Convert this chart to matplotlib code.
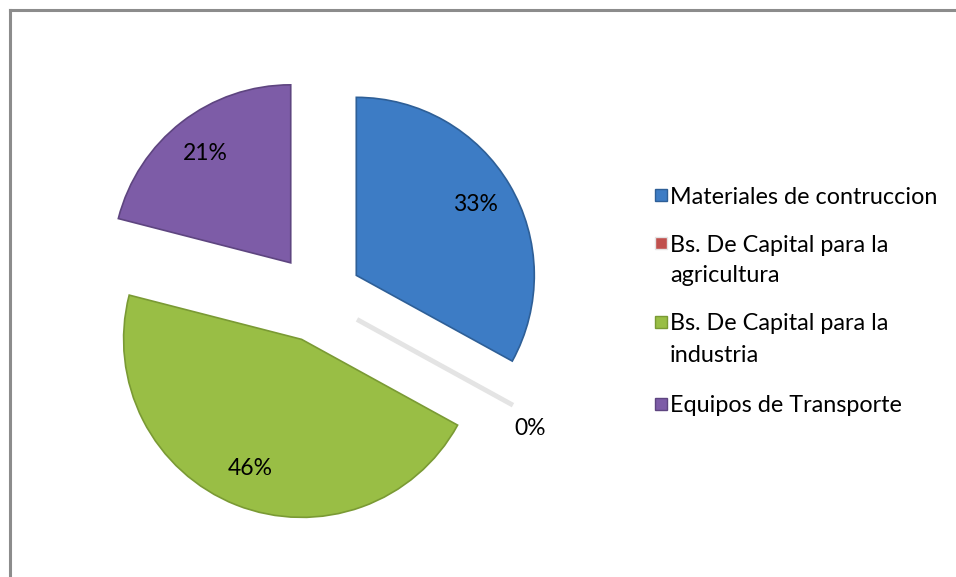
import matplotlib
matplotlib.use("Agg")
import matplotlib.pyplot as plt
from matplotlib.lines import Line2D
from matplotlib.patches import Rectangle
import numpy as np

categories = ["Materiales de contruccion",
              "Bs. De Capital para la\nagricultura",
              "Bs. De Capital para la\nindustria",
              "Equipos de Transporte"]
values = [33, 0, 46, 21]
colors = ["#3D7CC5", "#C0504D", "#99BE45", "#7D5CA7"]
edge_colors = ["#2E5F97", "#e4e4e4", "#7A9A34", "#5E4580"]

plt.rcParams['font.family'] = ['Lato', 'DejaVu Sans']

W, H = 956, 577
fig = plt.figure(figsize=(W / 100, H / 100), dpi=100)

# chart frame (left and top borders visible)
fig.add_artist(Line2D([9.5 / W, 9.5 / W], [0, 1 - 10 / H], color="#8c8c8c", lw=2.2, transform=fig.transFigure))
fig.add_artist(Line2D([9.5 / W, 1], [1 - 10 / H, 1 - 10 / H], color="#8c8c8c", lw=2.2, transform=fig.transFigure))

cx, cy, r = 318, 298, 178
ax = fig.add_axes([(cx - 1.5 * r) / W, (H - cy - 1.5 * r) / H, 3 * r / W, 3 * r / H])
ax.axis("off")

wedges, texts, autotexts = ax.pie(
    values, colors=colors, startangle=90, counterclock=False,
    explode=[0.25] * len(values), autopct="%1.0f%%", pctdistance=0.78,
    wedgeprops=dict(linewidth=1.2), textprops=dict(fontsize=16.5, color="black"),
)
for w, ec in zip(wedges, edge_colors):
    w.set_edgecolor(ec)
ax.set_xlim(-1.5, 1.5)
ax.set_ylim(-1.5, 1.5)

# zero-valued slice: faint line and label placed outside
zw = wedges[1]
zw.set_linewidth(3.5)
ang = np.deg2rad(zw.theta1 - 3.5)
ox, oy = zw.center
autotexts[1].set_position((ox + 1.15 * np.cos(ang), oy + 1.15 * np.sin(ang)))

# legend (drawn manually for exact Excel-like spacing)
first_line_y = [195, 243, 322, 404]
line_gap = 31
mx, msz, tx = 655, 12, 670
for cat, col, ec, y0 in zip(categories, colors, edge_colors, first_line_y):
    fig.add_artist(Rectangle((mx / W, 1 - (y0 + msz / 2) / H), msz / W, msz / H,
                             facecolor=col, edgecolor=ec, lw=1, transform=fig.transFigure))
    for i, line in enumerate(cat.split("\n")):
        fig.text(tx / W, 1 - (y0 + i * line_gap) / H, line, fontsize=16.8,
                 va="center_baseline", ha="left")

fig.savefig("out.png", dpi=100, facecolor="white")
